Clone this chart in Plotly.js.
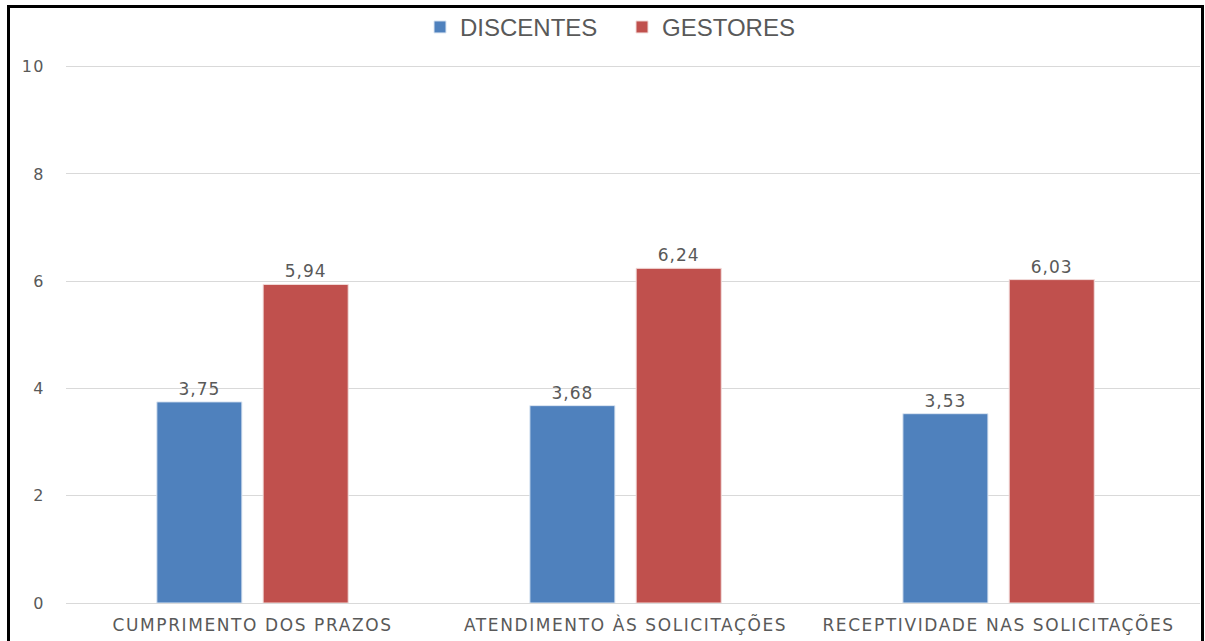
<!DOCTYPE html>
<html>
<head>
<meta charset="utf-8">
<script src="https://cdn.plot.ly/plotly-3.0.1.min.js"></script>
<style>
  html, body { margin: 0; padding: 0; background: #fff; overflow: hidden; }
  #wrap { position: relative; width: 1205px; height: 641px; }
  #chart { width: 1205px; height: 641px; }
  #frame {
    position: absolute; left: 7px; top: 5px; width: 1197px; height: 700px;
    border: 3px solid #000; pointer-events: none; box-sizing: border-box;
  }
  /* slightly widened lettering for axis and value labels */
  #chart .xtick text { letter-spacing: 1.6px; }
  #chart .ytick text { letter-spacing: 1.5px; }
  #chart .bartext { letter-spacing: 1px; }
</style>
</head>
<body>
<div id="wrap">
  <div id="chart"></div>
  <div id="frame"></div>
</div>
<script>
// Categories and mean scores per group
const categorias = ["CUMPRIMENTO DOS PRAZOS", "ATENDIMENTO ÀS SOLICITAÇÕES", "RECEPTIVIDADE NAS SOLICITAÇÕES"];
const discentes = [3.75, 3.68, 3.53];
const gestores = [5.94, 6.24, 6.03];
const yTicks = [0, 2, 4, 6, 8, 10];

const labelFont = { family: "DejaVu Sans, Verdana, sans-serif", size: 17, color: "#595959" };

const traces = [
  {
    type: "bar", name: "DISCENTES", x: categorias, y: discentes,
    marker: { color: "#4F81BD", line: { color: "#dce6f2", width: 1 } },
    texttemplate: "%{y:.2f}", textposition: "outside", textfont: labelFont,
    cliponaxis: false, hoverinfo: "none"
  },
  {
    type: "bar", name: "GESTORES", x: categorias, y: gestores,
    marker: { color: "#C0504D", line: { color: "#f2dcdb", width: 1 } },
    texttemplate: "%{y:.2f}", textposition: "outside", textfont: labelFont,
    cliponaxis: false, hoverinfo: "none"
  }
];

const layout = {
  width: 1205, height: 641,
  margin: { l: 66, r: 5, t: 61, b: 38, pad: 0 },
  paper_bgcolor: "#ffffff", plot_bgcolor: "#ffffff",
  separators: ",.",
  barmode: "group", bargap: 0.43, bargroupgap: 0.2,
  showlegend: true,
  legend: {
    orientation: "h", x: 0.4903, xanchor: "center", y: 1.068, yanchor: "middle",
    entrywidth: 157, entrywidthmode: "pixels",
    font: { family: "Liberation Sans, Arial, sans-serif", size: 24, color: "#595959" },
    itemclick: false, itemdoubleclick: false
  },
  xaxis: {
    type: "category", range: [-0.5, 2.54],
    showgrid: false, showline: false, ticks: "", zeroline: false,
    ticklabelstandoff: 10,
    tickfont: { family: "DejaVu Sans, Verdana, sans-serif", size: 17, color: "#595959" }
  },
  yaxis: {
    range: [0, 10.05], tickvals: yTicks, ticktext: yTicks.map(String),
    showgrid: true, gridcolor: "#D9D9D9", gridwidth: 1,
    zeroline: true, zerolinecolor: "#D9D9D9", zerolinewidth: 1,
    showline: false, ticks: "", ticklabelstandoff: 20,
    tickfont: { family: "DejaVu Sans, Verdana, sans-serif", size: 16, color: "#595959" }
  }
};

Plotly.newPlot("chart", traces, layout, { staticPlot: true, displayModeBar: false });
</script>
</body>
</html>
